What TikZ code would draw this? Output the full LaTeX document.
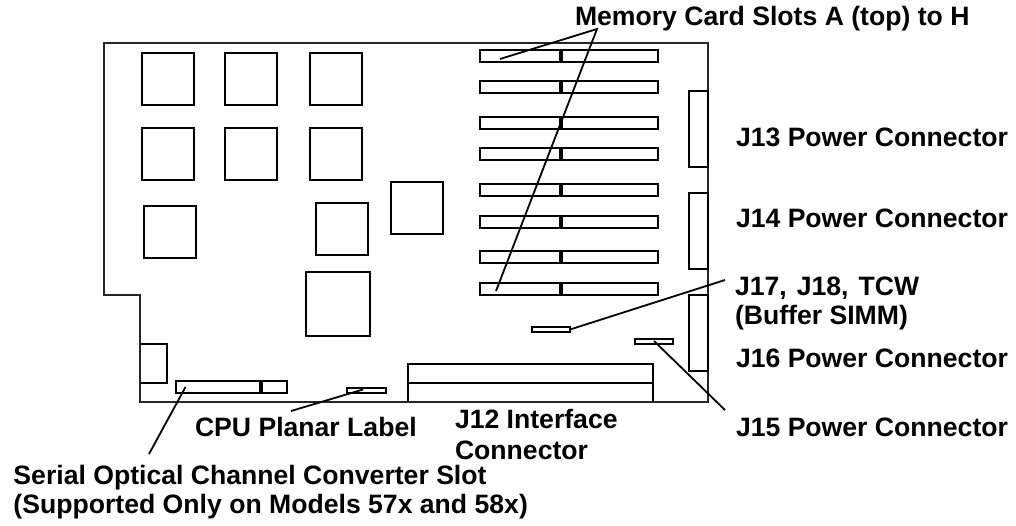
\documentclass[tikz,border=0pt]{standalone}
\usepackage{fontspec}
\setmainfont{Liberation Sans}
\tikzset{
  part/.style={draw=black,line width=1.15pt},
  board/.style={draw=black!85,line width=1.2pt},
  leader/.style={draw=black,line width=1.35pt},
  lbl/.style={anchor=base west,inner sep=0pt,outer sep=0pt,font=\fontsize{19.95pt}{22pt}\selectfont\bfseries}
}
\newcommand{\memslot}[1]{%
  \draw[part] (480,#1) rectangle (658,#1+12);
  \draw[part] (560,#1) rectangle (562,#1+12);}
\begin{document}
\begin{tikzpicture}[x=0.75pt,y=-0.75pt]
\useasboundingbox (0,0) rectangle (1016,525);
% board outline
\draw[board] (140,402) -- (140,295) -- (104,295) -- (104,43) -- (708,43) -- (708,402) -- cycle;
% chips
\foreach \cx/\cy in {142/53,225/53,310/53,142/128,225/128,310/128,144/206,316/203,391/182}
  \draw[part] (\cx,\cy) rectangle (\cx+52,\cy+52);
\draw[part] (306,272) rectangle (370,336);
% memory slots
\foreach \sy in {50,81,117,148,184,216,251,283} {\memslot{\sy}}
% power connectors
\foreach \py in {91,193,295}
  \draw[part] (689,\py) rectangle (708,\py+76);
% small slots
\draw[part] (532,327) rectangle (570,332);
\draw[part] (635,339) rectangle (673,344);
\draw[part] (347,388) rectangle (386,393);
% J12
\draw[part] (408,402) -- (408,364) -- (653,364) -- (653,402);
\draw[part] (408,383) -- (653,383);
% left block
\draw[part] (140,344) -- (167,344) -- (167,383) -- (140,383);
% SOCC slot
\draw[part] (176,381) rectangle (287,393);
\draw[part] (260,381) rectangle (262,393);
% labels
\node[lbl] (mem)  at (575,25)  {Memory Card Slots A (top) to H};
\node[lbl] (j13)  at (736,146.5) {J13 Power Connector};
\node[lbl] (j14)  at (736,227.5) {J14 Power Connector};
\node[lbl] (j17)  at (735,295) {J17,\hspace{0.1em} J18,\hspace{0.1em} TCW};
\node[lbl] (buf)  at (735,324.5) {(Buffer SIMM)};
\node[lbl] (j16)  at (736,367) {J16 Power Connector};
\node[lbl] (j15)  at (736,436.5) {J15 Power Connector};
\node[lbl] (j12)  at (455,428) {J12 Interface};
\node[lbl] (j12b) at (455,459) {Connector};
\node[lbl] (cpu)  at (195,436) {CPU Planar Label};
\node[lbl] (ser)  at (13.5,484)   {Serial Optical Channel Converter Slot};
\node[lbl] (sup)  at (13.5,513)   {(Supported Only on Models 57x and 58x)};
% leader ends
\coordinate (mtop) at (597,29);
\coordinate (ma) at (500,59);
\coordinate (mh) at (496,291);
\coordinate (j17a) at (725,280);
\coordinate (j17b) at (570,329.5);
\coordinate (j15a) at (725,410);
\coordinate (j15b) at (654,341);
\coordinate (cpua) at (291,411);
\coordinate (cpub) at (363,389.5);
\coordinate (sera) at (149,454);
\coordinate (serb) at (185.5,387);
% leaders
\draw[leader] (ma) -- (mtop) -- (mh);
\draw[leader] (j17a) -- (j17b);
\draw[leader] (j15a) -- (j15b);
\draw[leader] (cpua) -- (cpub);
\draw[leader] (sera) -- (serb);
\end{tikzpicture}
\end{document}
